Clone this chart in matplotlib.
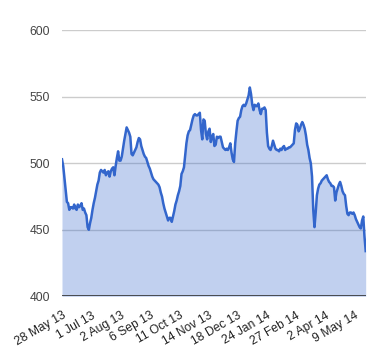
import numpy as np
import matplotlib.pyplot as plt

plt.rcParams['font.family'] = ['Liberation Sans', 'DejaVu Sans']

# closing prices, one per trading day from 28 May 13
prices = [
    503, 498, 489, 480, 471, 470, 465, 467, 467, 466,
    469, 466, 465, 469, 467, 468, 470, 465, 466, 463,
    461, 452, 450, 455, 459, 465, 470, 474, 479, 484,
    487, 493, 495, 494, 493, 495, 491, 493, 494, 490,
    494, 496, 497, 491, 498, 504, 509, 502, 502, 505,
    511, 517, 522, 527, 525, 523, 520, 507, 506, 508,
    510, 512, 516, 519, 518, 513, 510, 507, 505, 504,
    501, 498, 496, 493, 490, 488, 487, 486, 485, 484,
    482, 478, 475, 470, 466, 463, 460, 457, 459, 459,
    456, 460, 464, 469, 472, 476, 479, 483, 492, 494,
    497, 506, 515, 521, 524, 525, 529, 533, 536, 537,
    536, 536, 537, 538, 525, 518, 533, 532, 522, 518,
    524, 526, 516, 520, 522, 513, 514, 520, 519, 520,
    520, 516, 512, 511, 510, 511, 510, 512, 515, 508,
    503, 501, 515, 524, 532, 534, 535, 540, 543, 544,
    543, 545, 548, 551, 557, 552, 544, 540, 544, 543,
    543, 545, 540, 537, 541, 541, 542, 540, 523, 513,
    511, 510, 513, 517, 514, 511, 510, 510, 509, 511,
    510, 512, 513, 510, 511, 511, 512, 512, 513, 514,
    515, 525, 530, 529, 524, 526, 529, 531, 529, 526,
    521, 514, 510, 504, 500, 490, 465, 452, 463, 476,
    481, 484, 485, 487, 488, 489, 490, 491, 488, 486,
    485, 483, 483, 482, 472, 478, 481, 484, 486, 483,
    479, 477, 476, 468, 462, 461, 463, 463, 462, 463,
    461, 458, 456, 454, 452, 451, 457, 460, 445, 434,
]
tick_labels = ['28 May 13', '1 Jul 13', '2 Aug 13', '6 Sep 13', '11 Oct 13',
               '14 Nov 13', '18 Dec 13', '24 Jan 14', '27 Feb 14', '2 Apr 14',
               '9 May 14']
y_ticks = [400, 450, 500, 550, 600]

x = np.arange(len(prices))

fig = plt.figure(figsize=(3.8, 3.6), dpi=100)
ax = fig.add_axes([62 / 380, 1 - 296.3 / 360, (365.7 - 62) / 380, (296.3 - 30.3) / 360])

for t in y_ticks[1:]:
    ax.axhline(t, color='#cccccc', lw=1, zorder=1)
ax.fill_between(x, 400, prices, color='#3366cc', alpha=0.3, lw=0, zorder=2)
ax.plot(x, prices, color='#3366cc', lw=1.8, zorder=3)
ax.axhline(400, color='#333333', lw=1.2, zorder=4)

ax.set_xlim(0, len(prices) - 1)
ax.set_ylim(400, 600)
ax.set_yticks(y_ticks)
ax.set_xticks(np.arange(len(tick_labels)) * 24)
ax.set_xticklabels(tick_labels, rotation=30, ha='right', rotation_mode='anchor')
for s in ax.spines.values():
    s.set_visible(False)
ax.tick_params(axis='both', length=0, labelsize=8.7)
ax.tick_params(axis='y', pad=8.5, labelcolor='#444444')
ax.tick_params(axis='x', pad=9.5, labelcolor='#222222')

fig.savefig('out.png', dpi=100)
